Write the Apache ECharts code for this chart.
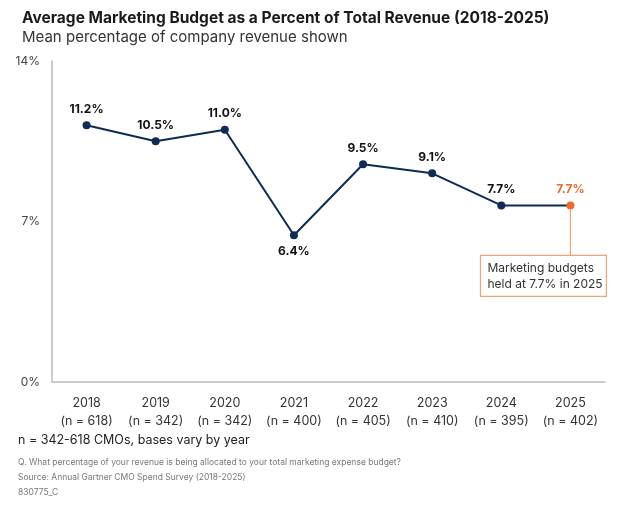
<!DOCTYPE html>
<html><head><meta charset="utf-8">
<script src="https://cdn.jsdelivr.net/npm/echarts@6/dist/echarts.min.js"></script>
<style>html,body{margin:0;padding:0;background:#fff}#c{width:630px;height:508px}</style>
</head><body><div id="c"></div>
<script>
var years = ['2018','2019','2020','2021','2022','2023','2024','2025'];
var bases = ['618','342','342','400','405','410','395','402'];
var values = [11.2, 10.5, 11.0, 6.4, 9.5, 9.1, 7.7, 7.7];
var yTicks = [0, 7, 14];
var note = 'Marketing budgets\nheld at 7.7% in 2025';

var NAVY = '#0e2a55', ORANGE = '#ee6a2d';
var FONT = 'Inter, Roboto, sans-serif';
var chart = echarts.init(document.getElementById('c'));
var data = values.map(function(v, i){
  var last = i === values.length - 1;
  return {
    value: v,
    itemStyle: {color: last ? ORANGE : NAVY},
    label: {
      position: i === 3 ? 'bottom' : 'top',
      color: last ? ORANGE : '#111'
    }
  };
});
var footer = [
  {id: 'f1', type: 'text', left: 18, top: 434, style: {text: 'n = 342-618 CMOs, bases vary by year', font: '12.5px ' + FONT, fill: '#222'}},
  {id: 'f2', type: 'text', left: 18, top: 458, style: {text: 'Q. What percentage of your revenue is being allocated to your total marketing expense budget?', font: '8.5px ' + FONT, fill: '#777'}},
  {id: 'f3', type: 'text', left: 18, top: 473, style: {text: 'Source: Annual Gartner CMO Spend Survey (2018-2025)', font: '8.5px ' + FONT, fill: '#777'}},
  {id: 'f4', type: 'text', left: 18, top: 488, style: {text: '830775_C', font: '8.5px ' + FONT, fill: '#777'}}
];
chart.setOption({
  animation: false,
  title: [
    {text: 'Average Marketing Budget as a Percent of Total Revenue (2018-2025)', left: 17, top: 5,
     textStyle: {fontFamily: FONT, fontSize: 15.5, fontWeight: 'bold', color: '#1a1a1a'}},
    {text: 'Mean percentage of company revenue shown', left: 17, top: 25,
     textStyle: {fontFamily: FONT, fontSize: 15, fontWeight: 'normal', color: '#333'}}
  ],
  grid: {left: 52, right: 25, top: 61, bottom: 126, containLabel: false},
  xAxis: {
    type: 'category', data: years,
    axisLine: {lineStyle: {color: '#bbb', width: 1.5}},
    axisTick: {show: false},
    axisLabel: {
      interval: 0, margin: 12, lineHeight: 18, color: '#333', fontFamily: FONT, fontSize: 12.5,
      formatter: function(v, i){ return v + '\n(n = ' + bases[i] + ')'; }
    }
  },
  yAxis: {
    type: 'value', min: 0, max: 14, interval: 7,
    axisLine: {show: true, lineStyle: {color: '#bbb', width: 1.5}},
    axisTick: {show: false},
    splitLine: {show: false},
    axisLabel: {margin: 12, color: '#444', fontFamily: FONT, fontSize: 12, formatter: '{value}%'}
  },
  series: [{
    type: 'line', data: data,
    symbol: 'circle', symbolSize: 8,
    lineStyle: {color: NAVY, width: 2},
    label: {show: true, distance: 6, fontFamily: FONT, fontSize: 12, fontWeight: 'bold',
      formatter: function(p){ return p.value.toFixed(1) + '%'; }}
  }],
  graphic: footer
});
var last = values.length - 1;
var p = chart.convertToPixel({seriesIndex: 0}, [last, values[last]]);
var boxTop = p[1] + 50, boxH = 41, boxW = 126;
var boxRight = p[0] + 36;
chart.setOption({graphic: footer.concat([
  {id: 'a1', type: 'line', z: 1, shape: {x1: p[0], y1: p[1] + 4, x2: p[0], y2: boxTop}, style: {stroke: '#f0a07a', lineWidth: 1.2}},
  {id: 'a2', type: 'rect', shape: {x: boxRight - boxW, y: boxTop, width: boxW, height: boxH}, style: {fill: '#fff', stroke: '#f0a07a', lineWidth: 1.2}},
  {id: 'a3', type: 'text', x: boxRight - boxW + 7, y: boxTop + 5, style: {text: note, font: '12px ' + FONT, fill: '#333', lineHeight: 16}}
])});
</script></body></html>
